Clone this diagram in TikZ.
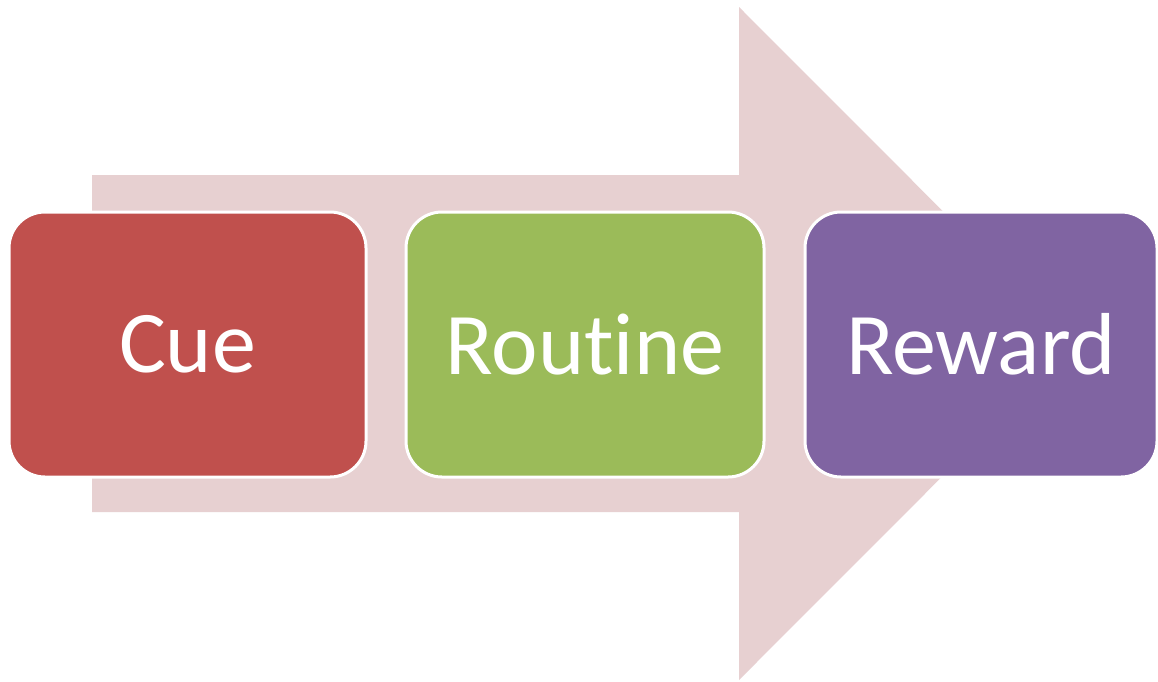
\documentclass[tikz,border=0pt]{standalone}
\usepackage{fontspec}
\setmainfont{Carlito}[Ligatures={NoCommon,NoRare,NoContextual}]
\definecolor{arrowpink}{HTML}{E7D0D1}
\definecolor{cuered}{HTML}{C0504D}
\definecolor{routinegreen}{HTML}{9BBB59}
\definecolor{rewardpurple}{HTML}{8064A2}
\tikzset{
  stagebox/.style={draw=white, line width=3pt, rounded corners=36pt, minimum height=265pt,
    text=white, font=\fontsize{88}{100}\selectfont, inner sep=0pt},
  bigarrow/.style={fill=arrowpink, draw=none}
}
\begin{document}
\begin{tikzpicture}[x=1pt,y=-1pt]
\useasboundingbox[fill=white] (0,0) rectangle (1158,681);
\fill[bigarrow] (92,175) -- (739,175) -- (739,7) -- (1075,343.5) -- (739,680) -- (739,512) -- (92,512) -- cycle;
\node[stagebox, fill=cuered, minimum width=357pt] (cue) at (187.5,344.5) {Cue};
\node[stagebox, fill=routinegreen, minimum width=358pt] (routine) at (585,344.5) {Rout\kern0pt ine};
\node[stagebox, fill=rewardpurple, minimum width=352pt] (reward) at (981,344.5) {Reward};
\end{tikzpicture}
\end{document}
